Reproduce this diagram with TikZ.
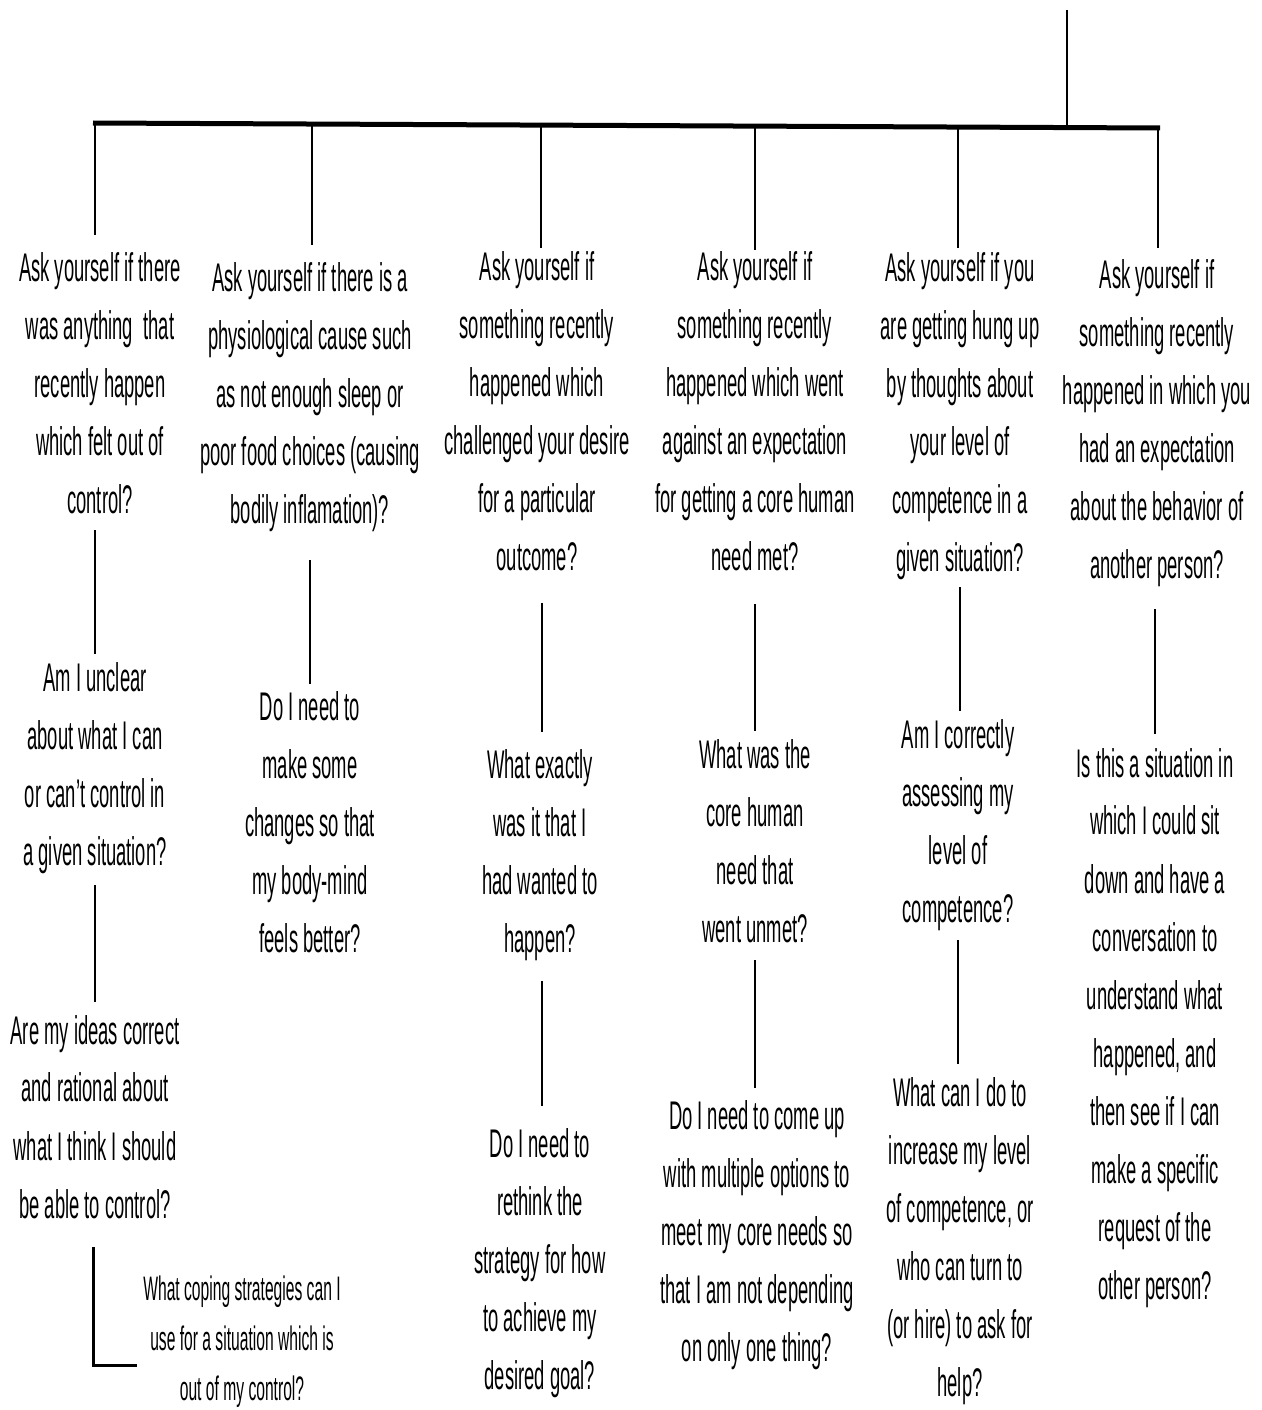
\documentclass[tikz,border=0pt]{standalone}
\usepackage{fontspec}
\setmainfont[FakeStretch=0.46]{Liberation Sans}
\begin{document}
\begin{tikzpicture}[x=1pt,y=-1pt,
  q/.style={anchor=north,align=center,inner sep=0pt,outer sep=0pt,font=\fontsize{40}{58}\selectfont},
  qs/.style={anchor=north,align=center,inner sep=0pt,outer sep=0pt,font=\fontsize{34}{50}\selectfont},
  conn/.style={line width=1.8pt},
  branch/.style={line width=1.8pt},
  barline/.style={line width=5pt}]
\useasboundingbox (0,0) rectangle (1261,1410);

% root and bar
\coordinate (root) at (1067,10);
\coordinate (barL) at (93,123);
\coordinate (barR) at (1160,128);
\draw[barline] (barL) -- (barR);
\draw[branch] (root) -- (1067,130);

\coordinate (k1) at (95,124);
\coordinate (k2) at (312,125);
\coordinate (k3) at (541,126);
\coordinate (k4) at (755,127);
\coordinate (k5) at (958,127);
\coordinate (k6) at (1158,128);

% column 1
\node[q] (t1) at (100,253) {Ask yourself if there\\was anything\ \ that\\recently happen\\which felt out of\\control?};
\node[q] (m1a) at (95,663) {Am I unclear\\about what I can\\or can't control in\\a given situation?};
\node[q] (m1b) at (95,1015) {Are my ideas correct\\and rational about\\what I think I should\\be able to control?};
\node[qs] (cope) at (242,1276) {What coping strategies can I\\use for a situation which is\\out of my control?};

% column 2
\node[q] (t2) at (310,263) {Ask yourself if there is a\\physiological cause such\\as not enough sleep or\\poor food choices (causing\\bodily inflamation)?};
\node[q] (m2) at (310,692) {Do I need to\\make some\\changes so that\\my body-mind\\feels better?};

% column 3
\node[q] (t3) at (537,252) {Ask yourself if\\something recently\\happened which\\challenged your desire\\for a particular\\outcome?};
\node[q] (m3a) at (540,750) {What exactly\\was it that I\\had wanted to\\happen?};
\node[q] (m3b) at (540,1128) {Do I need to\\rethink the\\strategy for how\\to achieve my\\desired goal?};

% column 4
\node[q] (t4) at (755,252) {Ask yourself if\\something recently\\happened which went\\against an expectation\\for getting a core human\\need met?};
\node[q] (m4a) at (755,740) {What was the\\core human\\need that\\went unmet?};
\node[q] (m4b) at (757,1100) {Do I need to come up\\with multiple options to\\meet my core needs so\\that I am not depending\\on only one thing?};

% column 5
\node[q] (t5) at (960,253) {Ask yourself if you\\are getting hung up\\by thoughts about\\your level of\\competence in a\\given situation?};
\node[q] (m5a) at (958,720) {Am I correctly\\assessing my\\level of\\competence?};
\node[q] (m5b) at (960,1077) {What can I do to\\increase my level\\of competence, or\\who can turn to\\(or hire) to ask for\\help?};

% column 6
\node[q] (t6) at (1157,260) {Ask yourself if\\something recently\\happened in which you\\had an expectation\\about the behavior of\\another person?};
\node[q] (m6) at (1155,748) {Is this a situation in\\which I could sit\\down and have a\\conversation to\\understand what\\happened, and\\then see if I can\\make a specific\\request of the\\other person?};

% branches from bar
\draw[branch,shorten >=18pt] (k1) -- (k1 |- t1.north);
\draw[branch,shorten >=18pt] (k2) -- (k2 |- t2.north);
\draw[branch,shorten >=4pt] (k3) -- (k3 |- t3.north);
\draw[branch,shorten >=2pt] (k4) -- (k4 |- t4.north);
\draw[branch,shorten >=5pt] (k5) -- (k5 |- t5.north);
\draw[branch,shorten >=12pt] (k6) -- (k6 |- t6.north);

% vertical connectors
\draw[conn,shorten <=16pt,shorten >=9pt] (m1a.north |- t1.south) -- (m1a.north);
\draw[conn,shorten <=11pt,shorten >=13pt] (m1b.north |- m1a.south) -- (m1b.north);
\draw[conn,shorten <=28pt,shorten >=8pt] (m2.north |- t2.south) -- (m2.north);
\draw[conn,shorten <=32pt,shorten >=18pt] ([xshift=2pt]m3a.north |- t3.south) -- ([xshift=2pt]m3a.north);
\draw[conn,shorten <=20pt,shorten >=22pt] ([xshift=2pt]m3b.north |- m3a.south) -- ([xshift=2pt]m3b.north);
\draw[conn,shorten <=33pt,shorten >=9pt] (m4a.north |- t4.south) -- (m4a.north);
\draw[conn,shorten <=17pt,shorten >=12pt] (m4a.south -| m4a.north) -- (m4a.north |- m4b.north);
\draw[conn,shorten <=7pt,shorten >=9pt] ([xshift=2pt]m5a.north |- t5.south) -- ([xshift=2pt]m5a.north);
\draw[conn,shorten <=9pt,shorten >=13pt] (m5a.south) -- (m5a.south |- m5b.north);
\draw[conn,shorten <=22pt,shorten >=14pt] (m6.north |- t6.south) -- (m6.north);

% L-shaped connector to coping node
\coordinate (lc) at (93,1365);
\draw[line width=3pt,line cap=rect,shorten >=8pt] ([xshift=-2pt,yshift=-30pt]m1b.south) -- ([xshift=-2pt]m1b.south |- lc) -- (lc -| cope.west);
\end{tikzpicture}
\end{document}
